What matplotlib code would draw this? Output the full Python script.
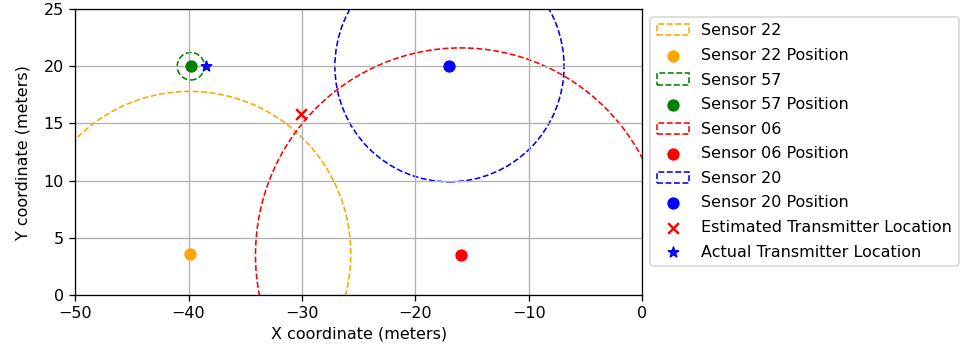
import matplotlib
import matplotlib.pyplot as plt

matplotlib.use("agg")

# sensor ids, colours, positions (m) and estimated ranges (m)
sensor_ids = ["22", "57", "06", "20"]
sensor_colors = ["orange", "green", "red", "blue"]
sensor_x = [-39.9, -39.8, -16.0, -17.0]
sensor_y = [3.6, 20.0, 3.5, 20.0]
sensor_r = [14.2, 1.2, 18.1, 10.1]

estimated_tx = (-30.1, 15.8)
actual_tx = (-38.5, 20.0)


def __main():
    dpi = 115
    fig = plt.figure(figsize=(963 / dpi, 346 / dpi), dpi=dpi)
    ax = fig.add_axes([0.078, 0.147, 0.589, 0.827])

    for sid, color, x, y, r in zip(sensor_ids, sensor_colors, sensor_x, sensor_y, sensor_r):
        circle = plt.Circle((x, y), r, color=color, fill=False, linestyle="--",
                            label=f"Sensor {sid}")
        ax.add_patch(circle)
        ax.scatter(x, y, color=color, s=45, label=f"Sensor {sid} Position", zorder=3)

    ax.scatter(*estimated_tx, color="red", marker="x", s=45,
               label="Estimated Transmitter Location", zorder=3)
    ax.scatter(*actual_tx, color="blue", marker="*", s=45,
               label="Actual Transmitter Location", zorder=3)

    ax.set_xlim(-50, 0)
    ax.set_ylim(0, 25)
    ax.set_xlabel("X coordinate (meters)", labelpad=3)
    ax.set_ylabel("Y coordinate (meters)", labelpad=8)
    ax.grid(True)
    ax.legend(loc="upper left", bbox_to_anchor=(1.0, 1.0), labelspacing=0.6)

    fig.savefig("out.png", dpi=dpi)


if __name__ == "__main__":
    __main()
